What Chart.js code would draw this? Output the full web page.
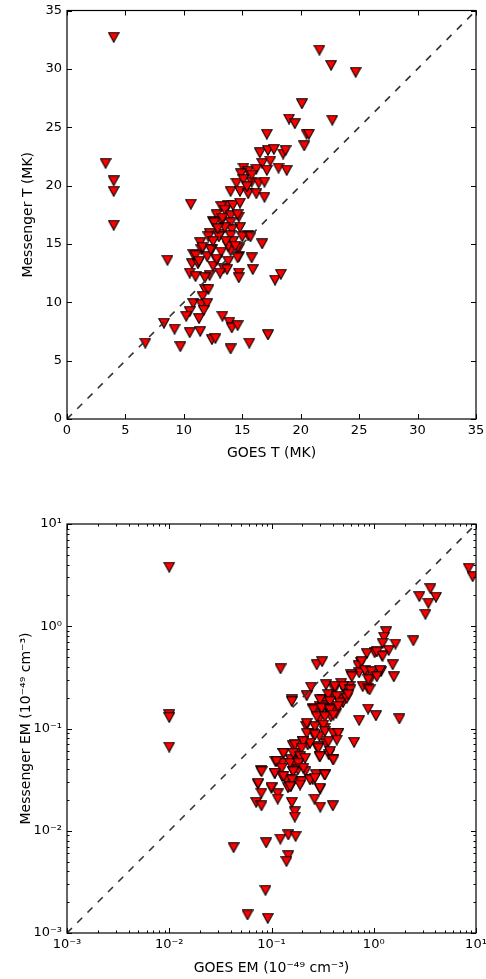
<!DOCTYPE html>
<html>
<head>
<meta charset="utf-8">
<script src="https://cdn.jsdelivr.net/npm/chart.js@4.4.1/dist/chart.umd.min.js"></script>
<style>
html, body { margin: 0; padding: 0; background: #fff; }
#wrapT { position: absolute; left: 0; top: 0; width: 486px; height: 470px; }
#wrapEM { position: absolute; left: 0; top: 470px; width: 486px; height: 509px; }
</style>
</head>
<body>
<div id="wrapT"><canvas id="chartT" width="486" height="470"></canvas></div>
<div id="wrapEM"><canvas id="chartEM" width="486" height="509"></canvas></div>
<script>
// Temperature panel: GOES T vs Messenger T (MK)
const goesT = [
    4.0, 21.6, 22.6, 24.7, 20.1, 19.0, 19.5, 22.7, 17.1, 20.5, 20.7, 20.3,
    3.3, 4.0, 4.0, 4.0, 10.6, 8.6, 8.3, 6.7, 9.2, 9.7, 10.5, 11.4, 12.4, 12.7,
    13.3, 13.9, 14.1, 14.6, 14.0, 15.6, 17.2, 17.8, 18.3, 15.9, 15.8, 16.7, 15.5,
    16.5, 17.2, 17.7, 18.5, 18.7, 16.7, 17.4, 18.1, 18.8, 15.1, 15.5, 16.2, 17.1,
    14.9, 14.5, 15.1, 15.8, 16.4, 16.9, 15.8, 14.0, 14.8, 15.5, 16.2, 16.9, 15.4,
    13.8, 14.2, 14.8, 13.2, 13.5, 12.8, 14.0, 14.7, 12.5, 13.2, 14.0, 14.8, 12.2,
    13.1, 14.1, 15.0, 15.7, 11.4, 12.1, 13.0, 14.0, 11.5, 12.4, 13.2, 14.0, 14.7,
    10.8, 12.0, 12.8, 13.8, 14.7, 10.7, 11.2, 12.5, 13.4, 13.7, 10.5, 11.0, 12.2,
    13.1, 14.7, 14.7, 11.8, 11.8, 12.1, 11.6, 10.8, 11.5, 12.0, 10.5, 11.7, 10.2,
    11.3, 13.5, 13.8, 14.2, 14.6, 12.6, 13.3, 14.6, 11.0, 11.3, 11.6, 12.3, 12.8,
    14.6, 14.4, 12.9, 13.6, 12.5
];
const messT = [
    32.7, 31.6, 30.3, 29.7, 27.0, 25.7, 25.3, 25.6, 24.4, 24.4, 24.4, 23.4,
    21.9, 20.4, 19.5, 16.6, 18.4, 13.6, 8.2, 6.5, 7.7, 6.2, 7.4, 7.5, 6.8, 6.9,
    8.8, 8.3, 7.8, 8.0, 6.0, 6.5, 7.2, 11.9, 12.4, 12.8, 13.8, 15.0, 15.7,
    22.8, 23.0, 23.1, 22.7, 23.0, 21.9, 22.1, 21.5, 21.3, 21.5, 21.2, 21.4, 21.3,
    21.0, 20.2, 20.5, 20.3, 20.2, 20.3, 20.9, 19.5, 19.5, 19.3, 19.3, 19.0, 19.9,
    18.3, 18.3, 18.5, 18.2, 17.9, 17.5, 17.4, 17.3, 16.9, 16.9, 16.8, 16.4, 15.9,
    15.8, 16.2, 15.6, 15.6, 15.1, 15.6, 15.6, 15.7, 14.5, 14.5, 14.3, 14.4, 14.6,
    14.1, 13.9, 13.6, 13.5, 13.9, 13.3, 13.3, 13.1, 12.9, 12.8, 12.5, 12.2, 12.3,
    12.5, 12.5, 12.1, 12.1, 11.1, 11.1, 10.5, 9.9, 9.8, 9.9, 9.2, 9.3, 8.8,
    8.6, 16.4, 14.8, 15.2, 14.7, 16.8, 17.2, 17.5, 14.0, 13.5, 14.7, 14.5, 13.7,
    13.8, 14.8, 16.3, 15.2, 15.2
];
const diagT = [0, 35];
const tTicks = [0, 5, 10, 15, 20, 25, 30, 35];

// Emission measure panel: GOES EM vs Messenger EM (1e49 cm^-3)
const goesEM = [
    0.01, 0.01, 0.01, 0.01,
    8.47, 9.27, 3.58, 2.79, 4.06, 3.42, 3.2,
    1.32, 1.26, 1.22, 1.63, 2.44, 1.4, 1.02, 0.855, 1.2, 1.53, 1.57, 0.75, 0.71,
    1.18, 0.98, 0.84, 0.72, 0.60, 0.91, 0.78, 0.87,
    0.1225, 0.277, 0.313, 0.48, 0.58, 0.537, 0.342, 0.413, 0.244, 0.221, 0.158,
    0.295, 0.342, 0.398, 0.462, 0.37, 0.32, 0.263,
    0.88, 1.05, 1.78, 0.72, 0.642,
    0.398, 0.295, 0.363, 0.279, 0.33, 0.273, 0.253, 0.299, 0.263, 0.30, 0.398,
    0.218, 0.253, 0.33, 0.446, 0.342, 0.295, 0.202, 0.226,
    0.162, 0.131, 0.174, 0.155, 0.195, 0.162, 0.109, 0.128, 0.0787, 0.107, 0.127,
    0.162, 0.181, 0.215, 0.139, 0.155, 0.145, 0.188, 0.0735, 0.1, 0.0795, 0.115,
    0.115, 0.0708, 0.0798, 0.158, 0.169, 0.169,
    0.146, 0.172, 0.122, 0.0887, 0.0426, 0.146, 0.140, 0.0873, 0.0583, 0.092,
    0.27, 0.34, 0.43, 0.5, 0.295, 0.38,
    1.07, 1.22, 0.76, 0.82, 0.95, 1.15, 0.61, 0.885, 1.07, 0.91, 0.50, 0.59, 0.417,
    0.359, 0.434, 0.544, 0.298, 0.373, 0.468, 0.564, 0.257, 0.321, 0.403,
    0.158, 0.257, 0.309, 0.373, 0.45, 0.277, 0.333, 0.403,
    0.221, 0.266, 0.321, 0.221, 0.266, 0.333, 0.403, 0.45, 0.435, 0.36, 0.287, 0.238, 0.204,
    0.17, 0.197, 0.163, 0.19, 0.213, 0.131, 0.112, 0.152, 0.183, 0.126, 0.205, 0.163,
    0.287, 0.298, 0.373, 0.403,
    0.08, 0.108, 0.131, 0.158, 0.197, 0.238, 0.266, 0.333,
    0.074, 0.1, 0.298, 0.152, 0.19
];
const messEM = [
    3.78, 0.136, 0.128, 0.0658,
    3.69, 3.05, 2.33, 1.95, 1.92, 1.68, 1.31,
    0.88, 0.78, 0.68, 0.67, 0.72, 0.58, 0.55, 0.54, 0.52, 0.42, 0.32, 0.44, 0.41,
    0.36, 0.35, 0.35, 0.35, 0.335, 0.29, 0.257, 0.248,
    0.383, 0.42, 0.45, 0.277, 0.257, 0.221, 0.267, 0.239, 0.253, 0.209, 0.19,
    0.164, 0.164, 0.158, 0.19, 0.19, 0.19, 0.155,
    0.155, 0.133, 0.124, 0.12, 0.073,
    0.05, 0.053, 0.0553, 0.065, 0.0352, 0.0352, 0.0316, 0.0255, 0.0204, 0.017, 0.0175,
    0.105, 0.09, 0.1, 0.09, 0.072, 0.0835, 0.0747, 0.069,
    0.0676, 0.0575, 0.0575, 0.0494, 0.0494, 0.0442, 0.0477, 0.0458, 0.0386, 0.0366, 0.034,
    0.038, 0.0394, 0.038, 0.0316, 0.0271, 0.0263, 0.0303, 0.0286, 0.0261, 0.0233, 0.023,
    0.0204, 0.0189, 0.0175, 0.0189, 0.0153, 0.0136,
    0.0091, 0.0088, 0.0083, 0.0076, 0.00683, 0.0057, 0.0050, 0.00261, 0.0015, 0.00139,
    0.152, 0.167, 0.141, 0.179, 0.125, 0.13,
    0.56, 0.51, 0.45, 0.37, 0.36, 0.37, 0.32, 0.30, 0.32, 0.238, 0.257, 0.238, 0.257,
    0.213, 0.205, 0.197, 0.19, 0.183, 0.177, 0.213, 0.158, 0.162, 0.158,
    0.183, 0.152, 0.157, 0.152, 0.164, 0.13, 0.13, 0.135,
    0.112, 0.104, 0.108, 0.0897, 0.0865, 0.0933, 0.0897, 0.0897, 0.077, 0.0743, 0.0663, 0.0716, 0.0743,
    0.069, 0.064, 0.0571, 0.053, 0.051, 0.0571, 0.0474, 0.0457, 0.0457, 0.0408, 0.0408, 0.0378,
    0.064, 0.053, 0.0593, 0.0492,
    0.0378, 0.0365, 0.0339, 0.0314, 0.0302, 0.0314, 0.0326, 0.0351,
    0.0291, 0.0266, 0.026, 0.0269, 0.028
];
const diagEM = [1e-3, 10];
const emMajorTicks = [1e-3, 1e-2, 1e-1, 1, 10];
const emMajorLabels = ['10⁻³', '10⁻²', '10⁻¹', '10⁰', '10¹'];

Chart.defaults.font.family = "'DejaVu Sans', sans-serif";
Chart.defaults.color = '#000';

// downward red triangle marker, like matplotlib 'v'
function makeMarker() {
    const c = document.createElement('canvas');
    c.width = 12;
    c.height = 11;
    const g = c.getContext('2d');
    g.beginPath();
    g.moveTo(0.7, 0.7);
    g.lineTo(11.3, 0.7);
    g.lineTo(6, 10.3);
    g.closePath();
    g.fillStyle = '#ff0000';
    g.fill();
    g.strokeStyle = '#000';
    g.lineWidth = 1.1;
    g.stroke();
    return c;
}
const marker = makeMarker();

function isPow10(v) {
    const l = Math.log10(v);
    return Math.abs(l - Math.round(l)) < 1e-9;
}

// full box with inward ticks on all sides
const frameTicks = {
    id: 'frameTicks',
    afterDatasetsDraw(chart) {
        const { ctx, chartArea: a } = chart;
        const sx = chart.scales.x, sy = chart.scales.y;
        const major = (s, v) => s.type !== 'logarithmic' || isPow10(v);
        ctx.save();
        ctx.strokeStyle = '#000';
        ctx.lineWidth = 1;
        ctx.beginPath();
        sx.ticks.forEach(t => {
            const p = Math.round(sx.getPixelForValue(t.value)) + 0.5;
            const len = major(sx, t.value) ? 5 : 2.5;
            ctx.moveTo(p, a.bottom); ctx.lineTo(p, a.bottom - len);
            ctx.moveTo(p, a.top); ctx.lineTo(p, a.top + len);
        });
        sy.ticks.forEach(t => {
            const p = Math.round(sy.getPixelForValue(t.value)) + 0.5;
            const len = major(sy, t.value) ? 5 : 2.5;
            ctx.moveTo(a.left, p); ctx.lineTo(a.left + len, p);
            ctx.moveTo(a.right, p); ctx.lineTo(a.right - len, p);
        });
        ctx.stroke();
        ctx.lineWidth = 1.2;
        ctx.strokeRect(a.left, a.top, a.right - a.left, a.bottom - a.top);
        ctx.restore();
    }
};

function toPoints(xs, ys) {
    return xs.map((x, i) => ({ x: x, y: ys[i] }));
}

function axisOpts(kind, isX, titleText, titlePad) {
    const o = {
        type: kind === 'log' ? 'logarithmic' : 'linear',
        grid: { display: false, drawTicks: false },
        border: { display: false },
        title: {
            display: true,
            text: titleText,
            font: { size: 14 },
            padding: titlePad
        },
        ticks: {
            font: { size: 13 },
            padding: isX ? 4 : 5,
            autoSkip: false,
            maxRotation: 0
        }
    };
    if (kind === 'log') {
        o.min = 1e-3;
        o.max = 10;
        o.afterBuildTicks = s => {
            const vals = [];
            emMajorTicks.forEach((m, i) => {
                if (i === emMajorTicks.length - 1) { vals.push(m); return; }
                for (let k = 1; k <= 9; k++) vals.push(m * k);
            });
            s.ticks = vals.map(v => ({ value: v }));
        };
        o.ticks.callback = v => {
            if (!isPow10(v)) return '';
            const i = emMajorTicks.findIndex(m => Math.abs(Math.log10(m) - Math.log10(v)) < 1e-9);
            return i >= 0 ? emMajorLabels[i] : '';
        };
    } else {
        o.min = tTicks[0];
        o.max = tTicks[tTicks.length - 1];
        o.afterBuildTicks = s => { s.ticks = tTicks.map(v => ({ value: v })); };
    }
    return o;
}

function makeChart(id, kind, xs, ys, diag, xTitle, yTitle, padTop, xHeight, xTitlePad, yTitlePad) {
    const x = axisOpts(kind, true, xTitle, { top: 0, bottom: xTitlePad });
    x.afterFit = s => { s.height = xHeight; s.paddingLeft = 0; s.paddingRight = 0; };
    const y = axisOpts(kind, false, yTitle, { top: yTitlePad, bottom: 0 });
    y.afterFit = s => { s.width = 67; s.paddingTop = 0; s.paddingBottom = 0; };

    return new Chart(document.getElementById(id).getContext('2d'), {
        type: 'scatter',
        data: {
            datasets: [
                {
                    type: 'line',
                    data: toPoints(diag, diag),
                    borderColor: '#333',
                    borderWidth: 1.6,
                    borderDash: [7, 7.5],
                    pointRadius: 0,
                    fill: false,
                    clip: 0
                },
                {
                    data: toPoints(xs, ys),
                    pointStyle: marker,
                    pointRadius: 6,
                    clip: 0
                }
            ]
        },
        options: {
            responsive: false,
            animation: false,
            layout: { padding: { left: 0, right: 10, top: padTop, bottom: 0 } },
            plugins: { legend: { display: false }, tooltip: { enabled: false } },
            scales: { x: x, y: y }
        },
        plugins: [frameTicks]
    });
}

makeChart('chartT', 'lin', goesT, messT, diagT, 'GOES T (MK)', 'Messenger T (MK)', 10.5, 51, 8.6, 19.6);
makeChart('chartEM', 'log', goesEM, messEM, diagEM,
    'GOES EM (10⁻⁴⁹ cm⁻³)', 'Messenger EM (10⁻⁴⁹ cm⁻³)', 54, 46, 2, 18.3);
</script>
</body>
</html>
